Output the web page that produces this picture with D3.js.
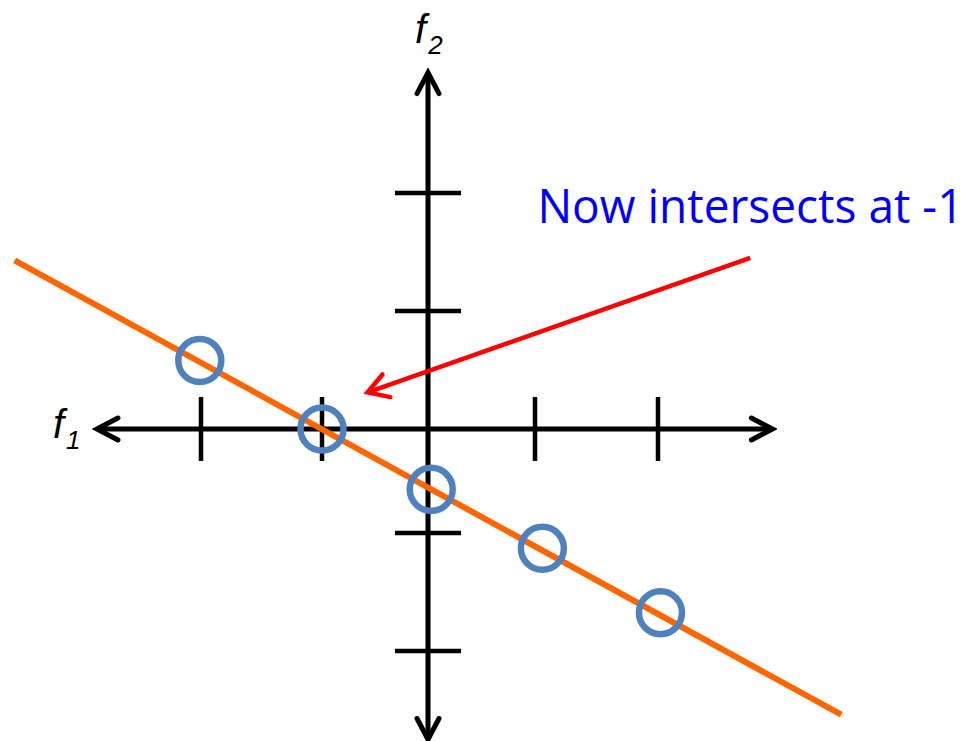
<!DOCTYPE html>
<html>
<head>
<meta charset="utf-8">
<script src="https://cdn.jsdelivr.net/npm/d3@7"></script>
<style>
  html, body { margin: 0; padding: 0; background: #fff; }
  svg { display: block; }
</style>
</head>
<body>
<script>
// ---- data ----
const tickValues = [-2, -1, 1, 2];
const pointsX = [-2.01, -1.0, 0.03, 1.06, 2.02];
const pointsY = [0.58, 0.0, -0.58, -1.13, -1.675];
const fitLineX = [-3.54, 3.49];
const fitLineY = [1.43, -2.54];
const axisXExtent = [-2.86, 2.93];
const axisYExtent = [-2.75, 3.02];
const annotationArrowX = [2.75, -0.57];
const annotationArrowY = [1.45, 0.31];
const annotationText = "Now intersects at -1";
const annotationPos = [1.02, 1.75];
const xLabel = ["f", "1"];
const yLabel = ["f", "2"];

const W = 977, H = 741;
const svg = d3.select("body").append("svg").attr("width", W).attr("height", H);

// polylinear scales (tick spacing in the original is slightly uneven)
const x = d3.scaleLinear().domain([-2, -1, 0, 1, 2]).range([201, 322, 428, 535, 658]);
const y = d3.scaleLinear().domain([-2, -1, 0, 1, 2]).range([651, 533, 429, 311, 193]);

const defs = svg.append("defs");
function chevron(id, color, len, half, sw) {
  defs.append("marker")
    .attr("id", id)
    .attr("markerUnits", "userSpaceOnUse")
    .attr("viewBox", `${-len - sw} ${-half - sw} ${len + 2 * sw} ${2 * half + 2 * sw}`)
    .attr("refX", 0).attr("refY", 0)
    .attr("markerWidth", len + 2 * sw).attr("markerHeight", 2 * half + 2 * sw)
    .attr("orient", "auto")
    .append("path")
    .attr("d", `M${-len},${-half} L0,0 L${-len},${half}`)
    .attr("fill", "none").attr("stroke", color).attr("stroke-width", sw)
    .attr("stroke-linecap", "round").attr("stroke-linejoin", "miter");
}
chevron("axArrow", "#000", 21, 11, 5);
chevron("redArrow", "#ff0000", 20, 12, 4.5);

const y0 = y(0), x0 = x(0);

// axes
const axes = svg.append("g").attr("stroke", "#000").attr("stroke-width", 5);
axes.append("line").attr("x1", x(0)).attr("y1", y0).attr("x2", x(axisXExtent[0])).attr("y2", y0)
  .attr("marker-end", "url(#axArrow)");
axes.append("line").attr("x1", x(0)).attr("y1", y0).attr("x2", x(axisXExtent[1])).attr("y2", y0)
  .attr("marker-end", "url(#axArrow)");
axes.append("line").attr("x1", x0).attr("y1", y(0)).attr("x2", x0).attr("y2", y(axisYExtent[1]))
  .attr("marker-end", "url(#axArrow)");
axes.append("line").attr("x1", x0).attr("y1", y(0)).attr("x2", x0).attr("y2", y(axisYExtent[0]))
  .attr("marker-end", "url(#axArrow)");

// ticks
const tickHalf = 32;
axes.selectAll(".xt").data(tickValues).join("line").attr("class", "xt")
  .attr("x1", d => x(d)).attr("x2", d => x(d))
  .attr("y1", y0 - tickHalf).attr("y2", y0 + tickHalf).attr("stroke-width", 4.5);
axes.selectAll(".yt").data(tickValues).join("line").attr("class", "yt")
  .attr("y1", d => y(d)).attr("y2", d => y(d))
  .attr("x1", x0 - tickHalf - 1).attr("x2", x0 + tickHalf + 1).attr("stroke-width", 4.5);

// axis labels
function label(parts, px, py) {
  const t = svg.append("text").attr("x", px).attr("y", py)
    .attr("font-family", "Liberation Sans, Arial, sans-serif")
    .attr("font-style", "italic").attr("fill", "#000");
  t.append("tspan").attr("font-size", 40).text(parts[0]);
  t.append("tspan").attr("font-size", 26).attr("dx", 2).attr("dy", 11).text(parts[1]);
}
label(yLabel, x0 - 13, y(axisYExtent[1]) - 30);
label(xLabel, x(axisXExtent[0]) - 44, y0 + 9);

// fitted line
svg.append("line")
  .attr("x1", x(fitLineX[0])).attr("y1", y(fitLineY[0]))
  .attr("x2", x(fitLineX[1])).attr("y2", y(fitLineY[1]))
  .attr("stroke", "#ff6600").attr("stroke-width", 6);

// points
const pts = pointsX.map((v, i) => ({ x: v, y: pointsY[i] }));
svg.selectAll(".pt").data(pts).join("circle").attr("class", "pt")
  .attr("cx", d => x(d.x)).attr("cy", d => y(d.y)).attr("r", 21.5)
  .attr("fill", "none").attr("stroke", "#4f81bd").attr("stroke-width", 6.5);

// annotation arrow
svg.append("line")
  .attr("x1", x(annotationArrowX[0])).attr("y1", y(annotationArrowY[0]))
  .attr("x2", x(annotationArrowX[1])).attr("y2", y(annotationArrowY[1]))
  .attr("stroke", "#ff0000").attr("stroke-width", 4.5)
  .attr("marker-end", "url(#redArrow)");

// annotation text
svg.append("text")
  .attr("x", x(annotationPos[0])).attr("y", y(annotationPos[1]))
  .attr("font-family", "Open Sans, Lato, sans-serif")
  .attr("font-size", 47).attr("fill", "#0000ff")
  .attr("textLength", 426).attr("lengthAdjust", "spacingAndGlyphs")
  .text(annotationText);
</script>
</body>
</html>
